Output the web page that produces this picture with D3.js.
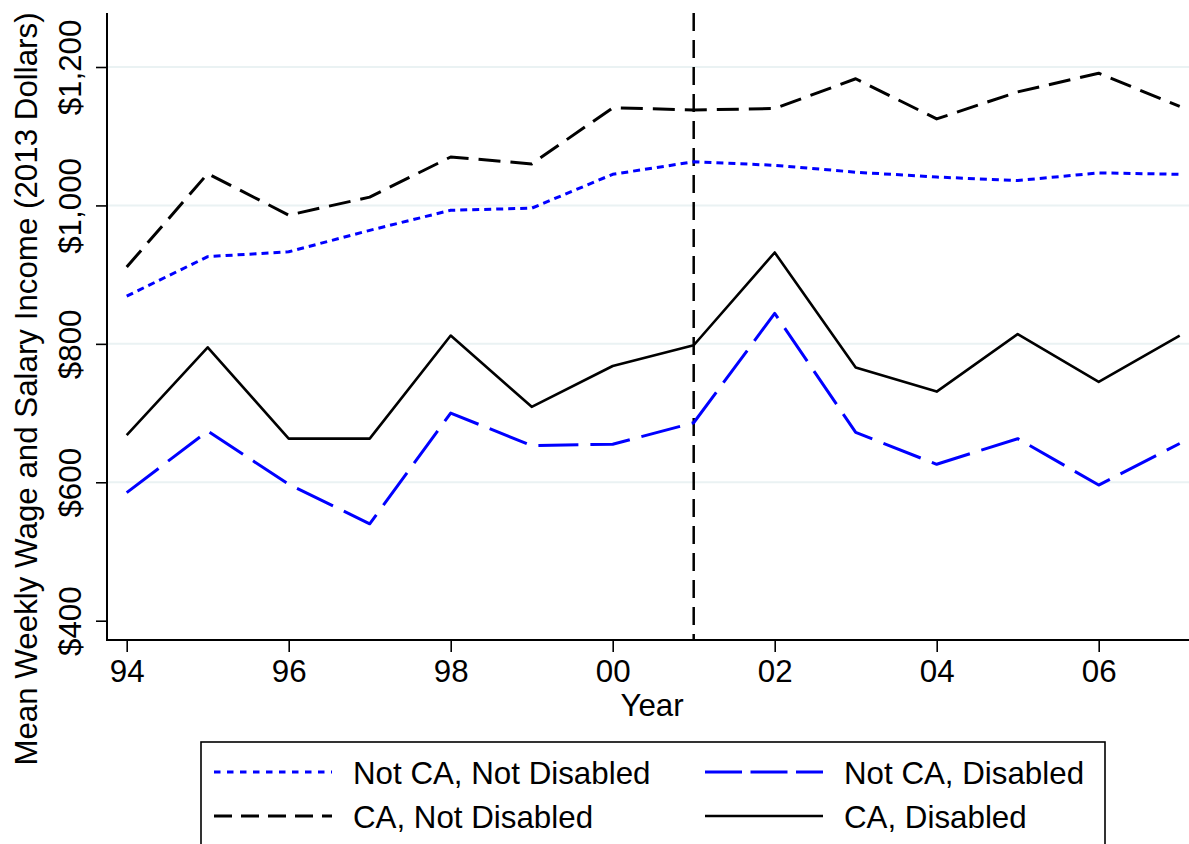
<!DOCTYPE html>
<html>
<head>
<meta charset="utf-8">
<script src="https://cdn.jsdelivr.net/npm/d3@7"></script>
<style>
  html, body { margin: 0; padding: 0; background: #fff; }
  svg { display: block; font-family: "Liberation Sans", Arial, sans-serif; }
</style>
</head>
<body>
<svg id="chart" width="1189" height="844"></svg>
<script>
// Survey years and mean weekly wage & salary income (2013 dollars)
const years = [1994, 1995, 1996, 1997, 1998, 1999, 2000, 2001, 2002, 2003, 2004, 2005, 2006, 2007];
const notCaNotDisabled = [869, 926, 933, 964, 993, 996, 1045, 1063, 1058, 1048, 1041, 1036, 1047, 1045];
const notCaDisabled    = [585, 674, 597, 540, 700, 653, 655, 686, 844, 672, 626, 663, 596, 656];
const caNotDisabled    = [911, 1046, 986, 1012, 1070, 1060, 1141, 1138, 1140, 1183, 1125, 1164, 1191, 1143];
const caDisabled       = [668, 795, 663, 663, 812, 709, 768, 798, 932, 766, 731, 814, 745, 812];

const yTicks = [400, 600, 800, 1000, 1200];
const gridValues = [600, 800, 1000, 1200];
const xTicks = [1994, 1996, 1998, 2000, 2002, 2004, 2006];
const policyYear = 2001;

const series = [
  { name: "Not CA, Not Disabled", values: notCaNotDisabled, color: "#0000ff", dash: "7,5",   width: 3,   legendDash: "6.5,6.5" },
  { name: "Not CA, Disabled",     values: notCaDisabled,    color: "#0000ff", dash: "40,12", width: 3,   legendDash: "37,8.5" },
  { name: "CA, Not Disabled",     values: caNotDisabled,    color: "#000000", dash: "22,10", width: 3,   legendDash: "18,9" },
  { name: "CA, Disabled",         values: caDisabled,       color: "#000000", dash: null,    width: 2.6, legendDash: null }
];

const fontSize = 31.3;
const svg = d3.select("#chart");
const axisLeftX = 107, axisTopY = 13, axisBottomY = 640, rightX = 1189;

const x = d3.scaleLinear().domain([1994, 2007]).range([126.7, 1179.7]);
const y = d3.scaleLinear().domain([400, 1200]).range([620.7, 67]);

// Horizontal gridlines
svg.append("g").selectAll("line").data(gridValues).join("line")
  .attr("x1", axisLeftX).attr("x2", rightX)
  .attr("y1", d => y(d)).attr("y2", d => y(d))
  .attr("stroke", "#eaf2f3").attr("stroke-width", 2);

// Y axis
const yAxis = svg.append("g").attr("transform", `translate(${axisLeftX},0)`)
  .call(d3.axisLeft(y).tickValues(yTicks).tickSize(11).tickPadding(0)
    .tickFormat(d => "$" + d3.format(",")(d)));
yAxis.select(".domain").remove();
yAxis.selectAll(".tick line").attr("stroke", "#000").attr("stroke-width", 1.6);
yAxis.selectAll(".tick text")
  .attr("x", null).attr("dy", null)
  .attr("transform", "translate(-26,0) rotate(-90)")
  .attr("text-anchor", "middle")
  .attr("font-size", fontSize).attr("fill", "#000");
svg.append("line")
  .attr("x1", axisLeftX).attr("x2", axisLeftX)
  .attr("y1", axisTopY).attr("y2", axisBottomY + 1)
  .attr("stroke", "#000").attr("stroke-width", 2);

// X axis
const xAxis = svg.append("g").attr("transform", `translate(0,${axisBottomY})`)
  .call(d3.axisBottom(x).tickValues(xTicks).tickSize(12).tickPadding(0)
    .tickFormat(d => String(d % 100).padStart(2, "0")));
xAxis.select(".domain").remove();
xAxis.selectAll(".tick line").attr("stroke", "#000").attr("stroke-width", 1.6);
xAxis.selectAll(".tick text")
  .attr("dy", null).attr("y", 42)
  .attr("font-size", fontSize).attr("fill", "#000");
svg.append("line")
  .attr("x1", axisLeftX - 1).attr("x2", rightX)
  .attr("y1", axisBottomY).attr("y2", axisBottomY)
  .attr("stroke", "#000").attr("stroke-width", 2);

// Axis titles
svg.append("text")
  .attr("x", 652).attr("y", 716)
  .attr("text-anchor", "middle").attr("font-size", fontSize)
  .text("Year");
svg.append("text")
  .attr("transform", "translate(37,389) rotate(-90)")
  .attr("text-anchor", "middle").attr("font-size", fontSize)
  .text("Mean Weekly Wage and Salary Income (2013 Dollars)");

// Policy year marker
svg.append("line")
  .attr("x1", x(policyYear)).attr("x2", x(policyYear))
  .attr("y1", axisTopY).attr("y2", axisBottomY)
  .attr("stroke", "#000").attr("stroke-width", 2.5)
  .attr("stroke-dasharray", "18,9");

// Series lines
const line = d3.line().x((d, i) => x(years[i])).y(d => y(d));
svg.append("g").selectAll("path").data(series).join("path")
  .attr("d", d => line(d.values))
  .attr("fill", "none")
  .attr("stroke", d => d.color)
  .attr("stroke-width", d => d.width)
  .attr("stroke-dasharray", d => d.dash)
  .attr("stroke-linejoin", "round");

// Legend
const legend = svg.append("g");
legend.append("rect")
  .attr("x", 201).attr("y", 742).attr("width", 904).attr("height", 140)
  .attr("fill", "#fff").attr("stroke", "#000").attr("stroke-width", 1.6);
const cols = [214, 705];
const rows = [772, 816];
series.forEach((s, i) => {
  const cx = cols[i % 2], cy = rows[Math.floor(i / 2)];
  legend.append("line")
    .attr("x1", cx).attr("x2", cx + 118)
    .attr("y1", cy).attr("y2", cy)
    .attr("stroke", s.color).attr("stroke-width", s.width)
    .attr("stroke-dasharray", s.legendDash);
  legend.append("text")
    .attr("x", cx + 139).attr("y", cy + 11.5)
    .attr("font-size", fontSize)
    .text(s.name);
});
</script>
</body>
</html>
